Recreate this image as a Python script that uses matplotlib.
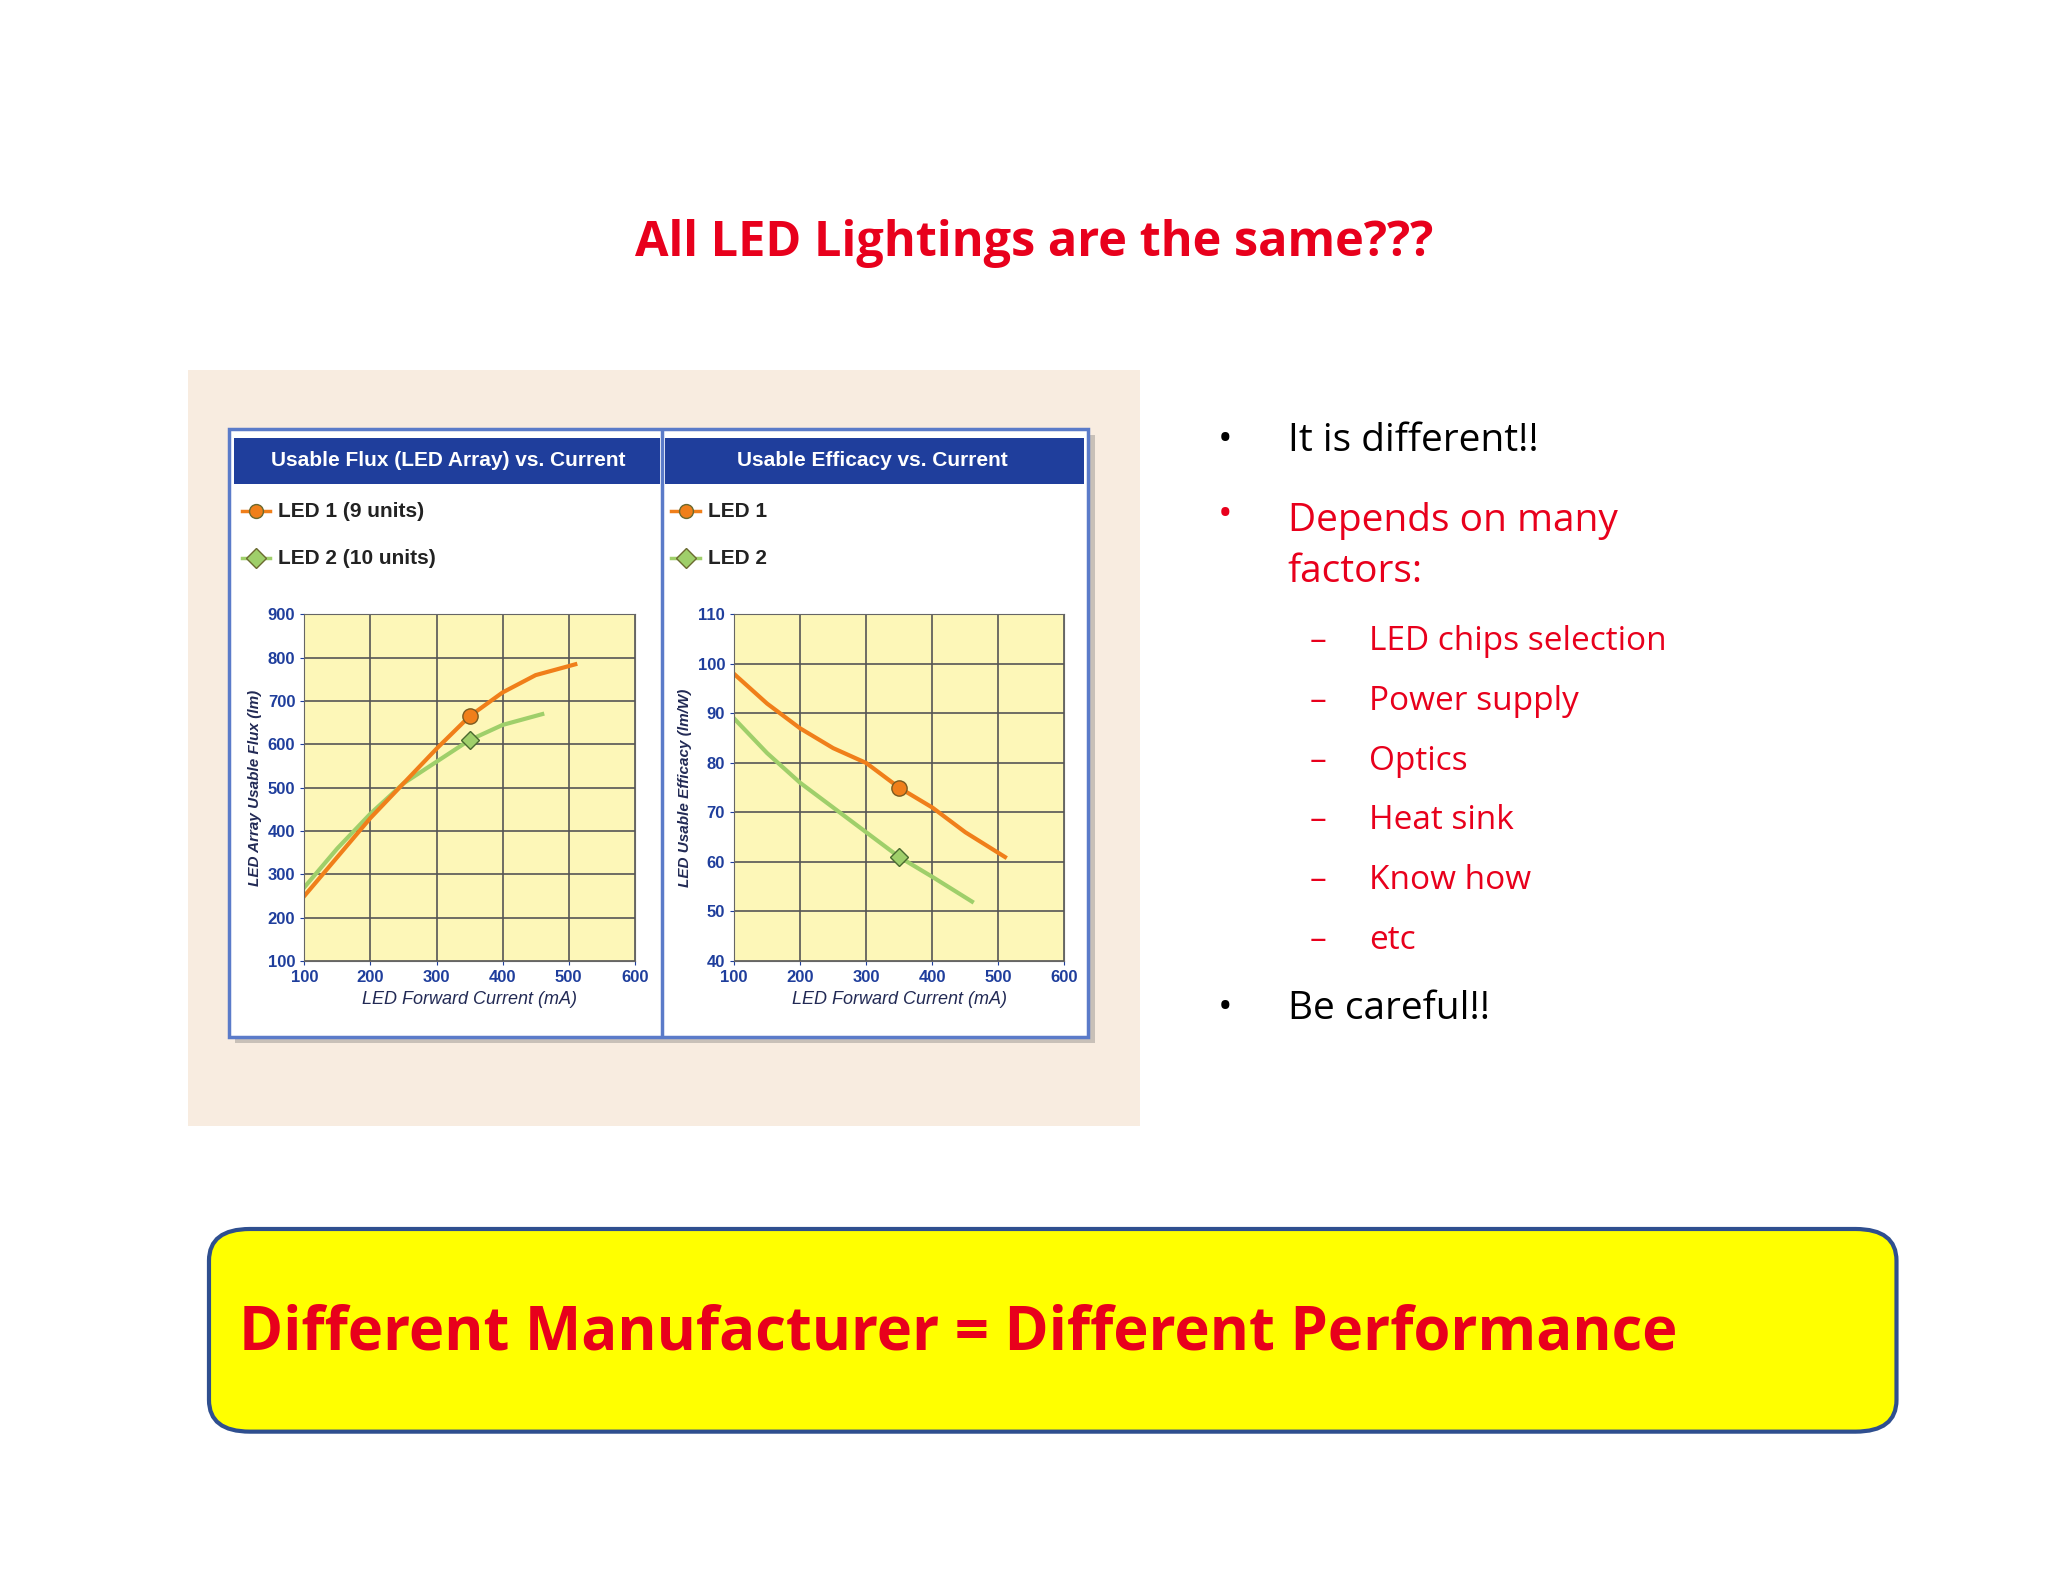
import matplotlib
matplotlib.use("Agg")
import matplotlib.pyplot as plt
from matplotlib.patches import Rectangle, FancyBboxPatch

W, H = 1568, 1210  # layout reference units

current_1 = [100, 150, 200, 250, 300, 350, 400, 450, 510]
flux_1 = [250, 340, 430, 510, 590, 665, 720, 760, 785]
current_2 = [100, 150, 200, 250, 300, 350, 400, 460]
flux_2 = [270, 360, 440, 510, 560, 610, 645, 670]
eff_1 = [98, 92, 87, 83, 80, 75, 71, 66, 61]
eff_2 = [89, 82, 76, 71, 66, 61, 57, 52]
marker_x = 350
bullets = ["It is different!!", "Depends on many\nfactors:"]
sub_items = ["LED chips selection", "Power supply", "Optics", "Heat sink", "Know how", "etc"]

RED = "#e8001c"
BLUE = "#1f3e9c"
ORANGE = "#f07f1a"
GREEN = "#9fcf6a"
NARROW = "Liberation Sans"

fig = plt.figure(figsize=(20.48, 15.82), dpi=100)
fig.patch.set_facecolor("white")


def fx(x):
    return x / W


def fy(y):
    return 1 - y / H


def rect(x0, y0, x1, y1, **kw):
    fig.patches.append(Rectangle((fx(x0), fy(y1)), fx(x1 - x0), (y1 - y0) / H,
                                 transform=fig.transFigure, **kw))


fig.text(0.505, fy(186), "All LED Lightings are the same???", color=RED,
         fontsize=35, fontweight="bold", ha="center", va="center", family="Open Sans")

# chart panel
rect(144, 283, 873, 861, facecolor="#f8ece0", edgecolor="none")
rect(180, 333, 838, 798, facecolor="#c8c0b8", edgecolor="none")
rect(175, 328, 833, 793, facecolor="white", edgecolor="#5b7bc9", lw=2.5)
rect(179, 335, 505, 370, facecolor=BLUE, edgecolor="none")
rect(509, 335, 830, 370, facecolor=BLUE, edgecolor="none")
fig.lines.append(plt.Line2D([fx(507), fx(507)], [fy(330), fy(791)], color="#5b7bc9", lw=2.5,
                            transform=fig.transFigure))
fig.text(fx(343), fy(352), "Usable Flux (LED Array) vs. Current", color="white",
         fontsize=15, fontweight="bold", ha="center", va="center", family=NARROW)
fig.text(fx(668), fy(352), "Usable Efficacy vs. Current", color="white",
         fontsize=15, fontweight="bold", ha="center", va="center", family=NARROW)


def panel(left, ylim, yticks, ylabel, y1, y2, legend):
    ax = fig.add_axes([fx(left), fy(735), fx(253), 265 / H], zorder=5)
    ax.set_facecolor("#fdf7b8")
    ax.plot(current_2, y2, color=GREEN, lw=3)
    ax.plot(current_1, y1, color=ORANGE, lw=3)
    ax.plot(marker_x, y1[current_1.index(marker_x)], "o", ms=11, color=ORANGE, mec="#7a5a20")
    ax.plot(marker_x, y2[current_2.index(marker_x)], "D", ms=9, color=GREEN, mec="#4a6a30")
    ax.set_xlim(100, 600)
    ax.set_ylim(*ylim)
    ax.set_xticks(range(100, 601, 100))
    ax.set_yticks(yticks)
    ax.grid(True, color="#555555", lw=1.2)
    ax.set_axisbelow(True)
    for s in ax.spines.values():
        s.set_color("#666666")
    ax.tick_params(labelsize=12, colors=BLUE, length=3)
    for t in ax.get_xticklabels() + ax.get_yticklabels():
        t.set_fontweight("bold")
        t.set_family(NARROW)
    ax.set_xlabel("LED Forward Current (mA)", fontsize=13, style="italic", color="#222a55",
                  family=NARROW)
    ax.set_ylabel(ylabel, fontsize=11, style="italic", fontweight="bold", color="#222a55",
                  family=NARROW)
    lx = left - 48
    for (lab, mk, col), y in zip(legend, [391, 427]):
        fig.lines.append(plt.Line2D([fx(lx), fx(lx + 22)], [fy(y), fy(y)], color=col, lw=2.5,
                                    transform=fig.transFigure))
        fig.lines.append(plt.Line2D([fx(lx + 11)], [fy(y)], color=col, marker=mk, ms=10,
                                    mec="#6a6a30", transform=fig.transFigure))
        fig.text(fx(lx + 28), fy(y), lab, fontsize=15, fontweight="bold", color="#222222",
                 va="center", family=NARROW)
    return ax


panel(233, (100, 900), range(100, 901, 100), "LED Array Usable Flux (lm)", flux_1, flux_2,
      [("LED 1 (9 units)", "o", ORANGE), ("LED 2 (10 units)", "D", GREEN)])
panel(562, (40, 110), range(40, 111, 10), "LED Usable Efficacy (lm/W)", eff_1, eff_2,
      [("LED 1", "o", ORANGE), ("LED 2", "D", GREEN)])

# bullets
tf = dict(fontsize=28, va="center", family="Open Sans")
fig.text(fx(932), fy(337), "•", color="black", **tf)
fig.text(fx(986), fy(337), bullets[0], color="black", **tf)
fig.text(fx(932), fy(395), "•", color=RED, **tf)
fig.text(fx(986), fy(418), bullets[1], color=RED, linespacing=1.45, **tf)
for i, item in enumerate(sub_items):
    y = 491 + i * 45.6
    fig.text(fx(1003), fy(y), "–", color=RED, fontsize=24, va="center", family="Open Sans")
    fig.text(fx(1048), fy(y), item, color=RED, fontsize=24, va="center", family="Open Sans")
fig.text(fx(932), fy(772), "•", color="black", **tf)
fig.text(fx(986), fy(772), "Be careful!!", color="black", **tf)

# yellow box
fig.patches.append(FancyBboxPatch((fx(160), fy(1095)), fx(1292), 155 / H,
                                  boxstyle="round,pad=0,rounding_size=0.02",
                                  transform=fig.transFigure, facecolor="#ffff00",
                                  edgecolor="#2f4f8f", lw=3))
fig.text(fx(183), fy(1020), "Different Manufacturer = Different Performance", color=RED,
         fontsize=43, fontweight="bold", va="center", family="Open Sans")

fig.savefig("out.png", dpi=100)
